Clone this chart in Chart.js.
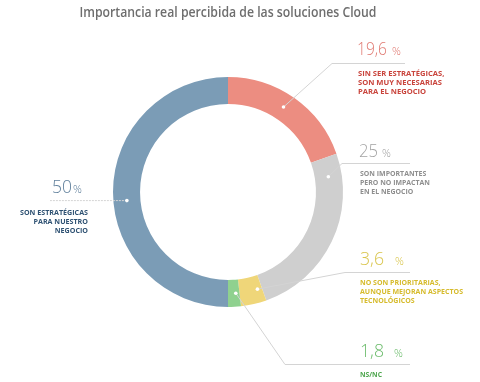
<!DOCTYPE html>
<html><head><meta charset="utf-8">
<script src="https://cdn.jsdelivr.net/npm/chart.js@4/dist/chart.umd.min.js"></script>
<style>html,body{margin:0;padding:0;background:#fff}#wrap{width:480px;height:382px}</style>
</head><body><div id="wrap"><canvas id="c" width="480" height="382"></canvas></div>
<script>
const title = 'Importancia real percibida de las soluciones Cloud';
const categories = ['Sin ser estratégicas, son muy necesarias para el negocio', 'Son importantes pero no impactan en el negocio', 'No son prioritarias, aunque mejoran aspectos tecnológicos', 'NS/NC', 'Son estratégicas para nuestro negocio'];
const values = [19.6, 25, 3.6, 1.8, 50];
const valueLabels = ['19,6', '25', '3,6', '1,8', '50'];
const descLines = [
  ['SIN SER ESTRATÉGICAS,', 'SON MUY NECESARIAS', 'PARA EL NEGOCIO'],
  ['SON IMPORTANTES', 'PERO NO IMPACTAN', 'EN EL NEGOCIO'],
  ['NO SON PRIORITARIAS,', 'AUNQUE MEJORAN ASPECTOS', 'TECNOLÓGICOS'],
  ['NS/NC'],
  ['SON ESTRATÉGICAS', 'PARA NUESTRO', 'NEGOCIO']
];
const sliceColors = ['#ec8d81', '#cfcfcf', '#efd679', '#8fd18f', '#7b9cb6'];
const numColors = ['#e07a72', '#a3a3a3', '#d9c54c', '#6cbc6c', '#5f7f9b'];
const textColors = ['#c9443c', '#8e8e8e', '#d6bb2c', '#4ea64e', '#2f5273'];

// layout of the callouts (positions only)
const callouts = [
  {numX: 357, numY: 55, numW: 30, gap: 5, lineY: 63, elbowX: 332, endX: 405, textX: 358, textY: 74, maxW: 88, align: 'left', dotFrac: 0.47},
  {numX: 359, numY: 157, numW: 19, gap: 4, lineY: 163, elbowX: 342, endX: 410, textX: 360, textY: 174, maxW: 70, align: 'left', dotFrac: 0.12},
  {numX: 360, numY: 265, numW: 24, gap: 11, lineY: 272, elbowX: 345, endX: 410, textX: 360, textY: 283, maxW: 103, align: 'left', dotFrac: 0.2},
  {numX: 360, numY: 357, numW: 24, gap: 10, lineY: 364, elbowX: 285, endX: 410, textX: 360, textY: 375, maxW: 22, align: 'left', dotFrac: 0.32},
  {numX: 52, numY: 193, numW: 20, gap: 1, lineY: 200, elbowX: null, endX: 50, textX: 88, textY: 213, maxW: 68, align: 'right', dotFrac: 0.473}
];

const calloutPlugin = {
  id: 'callouts',
  afterDraw(chart) {
    const ctx = chart.ctx;
    ctx.save();
    ctx.fillStyle = '#6e6e6e';
    ctx.font = '600 14px "Open Sans"';
    ctx.textAlign = 'center';
    ctx.textBaseline = 'middle';
    ctx.fillText(title, 228, 13, 297);
    ctx.restore();
    const meta = chart.getDatasetMeta(0);
    meta.data.forEach((arc, i) => {
      const c = callouts[i];
      const p = arc.getProps(['x', 'y', 'startAngle', 'endAngle', 'innerRadius', 'outerRadius'], true);
      const a = p.startAngle + (p.endAngle - p.startAngle) * c.dotFrac;
      const r = (p.innerRadius + p.outerRadius) / 2;
      const dx = p.x + Math.cos(a) * r;
      const dy = p.y + Math.sin(a) * r;
      ctx.save();
      ctx.strokeStyle = '#d4d4d4';
      ctx.lineWidth = 1;
      ctx.beginPath();
      ctx.moveTo(dx, dy);
      if (c.elbowX !== null) {
        ctx.lineTo(c.elbowX, c.lineY + 0.5);
        ctx.lineTo(c.endX, c.lineY + 0.5);
      } else {
        ctx.setLineDash([2, 1]);
        ctx.lineTo(c.endX, dy);
      }
      ctx.stroke();
      ctx.setLineDash([]);
      ctx.fillStyle = '#ffffff';
      ctx.beginPath();
      ctx.arc(dx, dy, 1.8, 0, Math.PI * 2);
      ctx.fill();
      ctx.textBaseline = 'alphabetic';
      ctx.textAlign = 'left';
      ctx.fillStyle = numColors[i];
      ctx.font = '300 18px "Open Sans"';
      const w = Math.min(ctx.measureText(valueLabels[i]).width, c.numW);
      ctx.fillText(valueLabels[i], c.numX, c.numY, w);
      ctx.font = '300 11px "Open Sans"';
      ctx.fillText('%', c.numX + w + c.gap, c.numY);
      ctx.fillStyle = textColors[i];
      ctx.font = 'bold 7.6px "Open Sans"';
      ctx.textAlign = c.align;
      ctx.textBaseline = 'middle';
      const widest = Math.max(...descLines[i].map(l => ctx.measureText(l).width));
      const k0 = Math.min(1, c.maxW / widest);
      descLines[i].forEach((line, k) => {
        const lw = ctx.measureText(line).width;
        ctx.fillText(line, c.textX, c.textY + k * 9, lw * k0);
      });
      ctx.restore();
    });
  }
};

new Chart(document.getElementById('c'), {
  type: 'doughnut',
  data: {
    labels: categories,
    datasets: [{
      data: values,
      backgroundColor: sliceColors,
      borderWidth: 0
    }]
  },
  options: {
    responsive: false,
    devicePixelRatio: 1,
    animation: false,
    cutout: '76.5%',
    layout: {padding: {left: 113, right: 137, top: 77, bottom: 75}},
    plugins: {
      legend: {display: false},
      tooltip: {enabled: false},
      title: {display: false}
    }
  },
  plugins: [calloutPlugin]
});
</script>
</body></html>
